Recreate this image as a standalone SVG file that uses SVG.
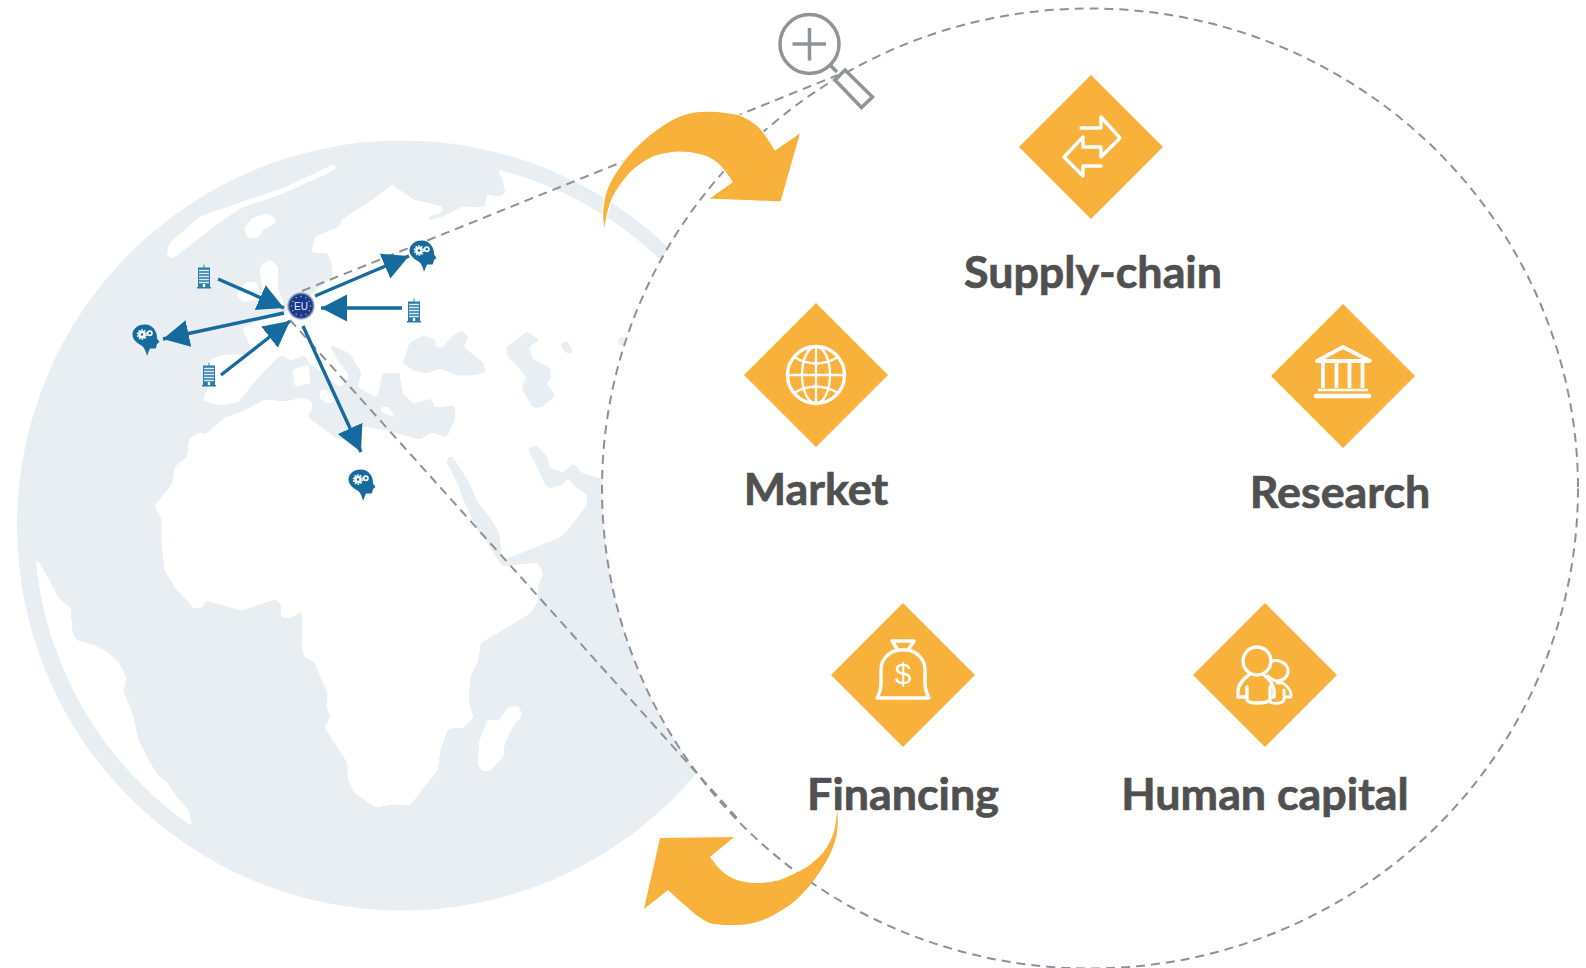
<svg xmlns="http://www.w3.org/2000/svg" width="1586" height="968" viewBox="0 0 1586 968">
<style>
.land{fill:#fff;stroke:#fff;stroke-width:1;stroke-linejoin:round}
.sea{fill:#e9eef3;stroke:#e9eef3;stroke-width:1;stroke-linejoin:round}
.dash{fill:none;stroke:#8e9196;stroke-width:2;stroke-dasharray:9 6}
.blue{stroke:#166b9e;stroke-width:3.400;fill:none;marker-end:url(#head)}
.dia{fill:#f8b13b}
.ico{fill:none;stroke:#fff;stroke-width:3.400;stroke-linecap:round;stroke-linejoin:round}
.lbl{font-family:"Lato","Liberation Sans",sans-serif;font-weight:700;font-size:44.800px;fill:#505050;stroke:#505050;stroke-width:0.700;text-anchor:middle}
.curve{fill:#f8b13b}
.glass{fill:none;stroke:#8f9499;stroke-width:3.500}
</style>
<defs>
<filter id="smooth" x="-5%" y="-5%" width="110%" height="110%" color-interpolation-filters="sRGB">
<feGaussianBlur stdDeviation="1.600"/>
<feComponentTransfer><feFuncA type="linear" slope="7" intercept="-3"/></feComponentTransfer>
</filter>
<marker id="head" markerUnits="userSpaceOnUse" markerWidth="27" markerHeight="28" refX="26" refY="14" orient="auto"><path d="M0,0.500 L26,14 L0,27.500 z" fill="#166b9e"/></marker>
<radialGradient id="eu"><stop offset="0.8" stop-color="#1a3690"/><stop offset="1" stop-color="#1a3690" stop-opacity="0.1"/></radialGradient>
<g id="building">
<path d="M0,-12.500 V-9" stroke="#3a86b3" stroke-width="1"/>
<rect x="-6" y="-9.500" width="12" height="19.500" fill="#2a7cab"/>
<path d="M-5,-6.500H5M-5,-3.500H5M-5,-0.500H5M-5,2.500H5M-5,5.500H5" stroke="#dcebf3" stroke-width="1.300"/>
<rect x="-1.200" y="7" width="2.400" height="3" fill="#fff"/>
<rect x="-7" y="10" width="14" height="1.500" fill="#2a7cab"/>
</g>
<g id="mind">
<path d="M-1,-14.500 C-9,-14.500 -13.500,-9.500 -13.500,-4.500 C-13.500,0.500 -9,4 -4.500,6.500 C-2,8 0,12 1,17 C2,14 3,11.500 4,9.500 L9.500,9.500 C10.500,8.500 10.500,6.500 11,5 L13.500,3 L11,-0.500 C11.500,-7 7,-14.500 -1,-14.500 z" fill="#166b9e"/>
<circle cx="-4" cy="-4.500" r="2.600" fill="none" stroke="#fff" stroke-width="2.600"/>
<circle cx="-4" cy="-4.500" r="4.600" fill="none" stroke="#fff" stroke-width="1.500" stroke-dasharray="1.600 1.300"/>
<circle cx="3.800" cy="-5.800" r="2.100" fill="none" stroke="#fff" stroke-width="1.700"/>
</g>
</defs>

<g id="globe">
<circle cx="402" cy="525.500" r="385" fill="#e9eef3"/>
<g filter="url(#smooth)">
<path class="land" d="M36,558 L50,582 L58,598 L70,608 L72,633 L77,641 L93,645 L108,653 L118,662 L126,677 L123,692 L132,713 L138,740 L147,758 L157,775 L167,783 L177,798 L188,810 L192,826 A364.500,364.500 0 0 1 36,558 z"/>
<path class="land" d="M498,170 L503,180 L506,193 L500,197 L487,195 L485,208 L463,207 L443,217 L428,221 L427,217 L442,212 L442,207 L430,204 L413,200 L392,185 L377,197 L342,220 L340,227 L315,237 L312,252 L328,253 L332,263 L333,277 L325,283 L317,290 L305,300 L290,310 L270,318 L243,328 L253,352 L245,355 L225,355 L210,360 L204,375 L210,385 L203,400 L220,405 L238,402 L253,383 L263,372 L278,357 L283,355 L290,360 L305,355 L310,363 L328,377 L340,387 L348,378 L347,373 L337,360 L328,343 L350,353 L362,373 L358,387 L377,397 L382,373 L400,372 L403,393 L413,403 L432,398 L435,407 L456,405 L455,420 L447,438 L432,433 L420,440 L383,430 L363,427 L350,438 L338,440 L318,425 L307,417 L312,408 L312,402 L302,398 L285,402 L265,400 L242,412 L225,418 L205,435 L200,433 L190,438 L187,458 L175,467 L173,483 L160,500 L155,505 L162,520 L162,543 L165,570 L177,590 L190,603 L193,608 L203,607 L205,600 L242,610 L275,599 L281,603 L282,617 L290,618 L302,611 L303,617 L302,647 L305,657 L315,662 L323,682 L328,692 L327,707 L331,717 L325,727 L333,740 L348,763 L348,778 L355,793 L376,807 L393,804 L410,805 L437,770 L440,750 L447,730 L453,727 L463,728 L473,718 L468,700 L470,677 L478,660 L480,643 L497,633 L530,613 L538,600 L537,588 L543,573 L537,563 L502,567 L490,548 L477,530 L463,500 L457,483 L445,460 L452,455 L470,483 L477,500 L490,517 L500,533 L502,556 L507,558 L520,553 L560,537 L570,527 L586,505 L587,495 L575,488 L568,478 L563,485 L550,489 L545,485 L533,460 L527,448 L537,445 L548,457 L550,467 L562,472 L574,463 L583,473 L602,478 L720,478 L720,300 L662,262 A366,366 0 0 0 498,170 z"/>
<path class="land" d="M167,255 L170,243 L200,217 L240,203 L287,187 L333,165 L337,167 L330,172 L283,193 L263,200 L240,208 L213,227 L177,255 L172,258 z"/>
<path class="land" d="M244,228 L253,218 L267,214 L275,218 L275,223 L262,230 L258,238 L248,237 z"/>
<path class="land" d="M237,295 L247,282 L257,283 L260,298 L243,302 z"/>
<path class="land" d="M260,270 L262,265 L270,260 L278,267 L277,287 L284,306 L258,311 L263,290 z"/>
<path class="land" d="M293,370 L308,365 L310,383 L295,386 z"/>
<path class="land" d="M320,392 L325,389 L335,400 L328,403 L320,398 z"/>
<path class="land" d="M380,408 L388,407 L395,417 L383,413 z"/>
<path class="land" d="M480,740 L488,720 L493,720 L498,722 L508,708 L518,706 L522,715 L512,727 L504,745 L503,757 L490,770 L483,771 L478,765 z"/>
</g>
<g filter="url(#smooth)">
<path class="sea" d="M403,363 L410,343 L423,336 L435,340 L435,348 L443,348 L452,337 L462,331 L468,337 L463,347 L483,363 L485,372 L473,375 L457,375 L440,368 L427,373 L413,370 z"/>
<path class="sea" d="M507,347 L527,332 L539,340 L528,347 L533,360 L550,368 L550,380 L545,382 L555,395 L542,407 L533,407 L527,397 L522,387 L527,378 L517,365 L508,357 z"/>
<path class="sea" d="M560,345 L567,341 L573,352 L567,353 z"/>
<circle cx="622" cy="341" r="4" fill="#e9eef3"/>
</g>
</g>

<ellipse id="zoom-circle" cx="1090" cy="488.500" rx="488" ry="480" fill="#fff"/>

<g id="connectors">
<ellipse class="dash" cx="1090" cy="488.500" rx="488" ry="480"/>
<path class="dash" d="M302,291 L838,75"/>
<path class="dash" d="M290,320 L738,819"/>
<path class="blue" d="M218,279 L284,308"/>
<path class="blue" d="M284,313 L163,339"/>
<path class="blue" d="M221,375 L290,321"/>
<path class="blue" d="M303,326 L361,452"/>
<path class="blue" d="M315,296 L409,256"/>
<path class="blue" d="M402,308 L321,308"/>
<path class="curve" stroke="#fff" stroke-width="1.200" d="M605,231 C602,222 602,215 603,207 C604,195 607,187 613,177 C619,167 625,158 633,150 C642,141 652,132 663,125 C672,119 681,115 690,113 C698,111 705,111 713,111 C723,112 732,113 740,115 C747,118 752,121 757,125 C765,132 770,141 775,150 L801,132 L781,202 L708,199 L732,182 C728,176 723,168 717,163 C711,158 704,155 697,154 C690,152 684,152 677,152 C668,153 660,154 653,157 C645,161 637,166 630,173 C624,180 618,188 613,197 C609,206 606,218 605,231 z"/>
<path class="curve" d="M837,809 C838,817 838,825 837,833 C835,843 832,851 827,860 C820,872 812,884 803,893 C795,902 786,908 777,913 C769,918 761,921 753,923 C745,925 738,925 730,925 C722,925 714,925 707,922 C700,918 693,913 687,907 C680,901 674,896 668,890 L644,909 L660,838 L734,837 L710,857 C714,862 718,868 723,872 C727,876 732,878 737,880 C743,882 750,883 757,883 C765,883 772,882 780,880 C789,876 799,872 807,867 C815,861 822,855 827,847 C831,840 834,834 835,827 C836,821 837,815 837,809 z"/>
</g>

<g id="magnifier">
<circle class="glass" cx="809.500" cy="44" r="29.500"/>
<path class="glass" d="M792.500,44 H826 M809.500,28 V60.500 M830.500,65.500 L837,72"/>
<path class="glass" d="M845,70 L872.500,97 L861.500,107.500 L835,80 z"/>
</g>

<g id="eu-hub">
<circle cx="301" cy="306" r="14" fill="url(#eu)"/>
<g fill="#c8bb4a">
<circle cx="301" cy="296.500" r="0.800"/><circle cx="305.800" cy="297.800" r="0.800"/><circle cx="309.200" cy="301.200" r="0.800"/><circle cx="310.500" cy="306" r="0.800"/><circle cx="309.200" cy="310.800" r="0.800"/><circle cx="305.800" cy="314.200" r="0.800"/><circle cx="301" cy="315.500" r="0.800"/><circle cx="296.200" cy="314.200" r="0.800"/><circle cx="292.800" cy="310.800" r="0.800"/><circle cx="291.500" cy="306" r="0.800"/><circle cx="292.800" cy="301.200" r="0.800"/><circle cx="296.200" cy="297.800" r="0.800"/>
</g>
<text x="301" y="309.500" font-family="'Liberation Sans',sans-serif" font-size="10" fill="#e8eef8" text-anchor="middle">EU</text>
</g>

<g id="firm-nw"><use href="#building" x="204" y="277"/></g>
<g id="firm-sw"><use href="#building" x="209" y="375"/></g>
<g id="firm-e"><use href="#building" x="414" y="311"/></g>
<g id="talent-w"><use href="#mind" x="146" y="339"/></g>
<g id="talent-n"><use href="#mind" x="423" y="255"/></g>
<g id="talent-s"><use href="#mind" x="362" y="484"/></g>

<g id="supply-chain">
<path class="dia" d="M1091,75 L1163,147 L1091,219 L1019,147 z"/>
<path class="ico" d="M1081,128 H1101 V117 L1120,138 L1101,157 V147 H1083 V137 L1064,157 L1083,176 V166 H1101"/>
<text class="lbl" x="1093" y="287.500">Supply-chain</text>
</g>
<g id="market">
<path class="dia" d="M816,303 L888,375 L816,447 L744,375 z"/>
<g class="ico">
<circle cx="816" cy="375" r="28.500"/>
<ellipse cx="816" cy="375" rx="14" ry="28.500" stroke-width="2.400"/>
<path d="M816,347 V403 M788,375 H844" stroke-width="2.400"/>
<path d="M794,357 Q816,370 838,357 M794,393 Q816,380 838,393" stroke-width="2.400"/>
</g>
<text class="lbl" x="816" y="505">Market</text>
</g>
<g id="research">
<path class="dia" d="M1343,304 L1415,376 L1343,448 L1271,376 z"/>
<path d="M1343,347 L1370,361 H1317 z" fill="none" stroke="#fff" stroke-width="3.800" stroke-linejoin="round"/>
<path d="M1323,363 V388 M1336.500,363 V388 M1349.500,363 V388 M1362.500,363 V388" stroke="#fff" stroke-width="3.800"/>
<path d="M1318,390 H1368" stroke="#fff" stroke-width="2.500"/>
<path d="M1316,396 H1369" stroke="#fff" stroke-width="4.500" stroke-linecap="round"/>
<text class="lbl" x="1340" y="508">Research</text>
</g>
<g id="financing">
<path class="dia" d="M903,603 L975,675 L903,747 L831,675 z"/>
<path class="ico" d="M892,641 H914 L908,650 C918,652 925,660 925,670 V683 C925,689 927,694 929,698 H877 C880,693 881,689 881,683 V670 C881,660 888,652 898,650 z M898,650 H908"/>
<text x="903" y="684" font-family="'Liberation Sans',sans-serif" font-size="30" fill="#fff" text-anchor="middle">$</text>
<text class="lbl" x="903" y="810">Financing</text>
</g>
<g id="human-capital">
<path class="dia" d="M1265,603 L1337,675 L1265,747 L1193,675 z"/>
<g class="ico">
<circle cx="1257" cy="661" r="14"/>
<path d="M1250,674 C1243,679 1238,684 1238,691 V697 H1247 M1247,687 V700 C1249,704 1266,704 1270,700 V687 M1263,674 C1269,679 1274,684 1274,691 V697 H1270"/>
<path d="M1272,661 C1280,659 1288,664 1288,671 C1288,677 1283,681 1277,681 C1274,681 1271,679 1268,676" stroke-width="3"/>
<path d="M1277,683 H1283 C1288,687 1291,690 1291,694 V697 H1284 M1284,690 V700 C1282,704 1274,704 1270,702" stroke-width="2.800"/>
</g>
<text class="lbl" x="1265" y="810">Human capital</text>
</g>
</svg>
